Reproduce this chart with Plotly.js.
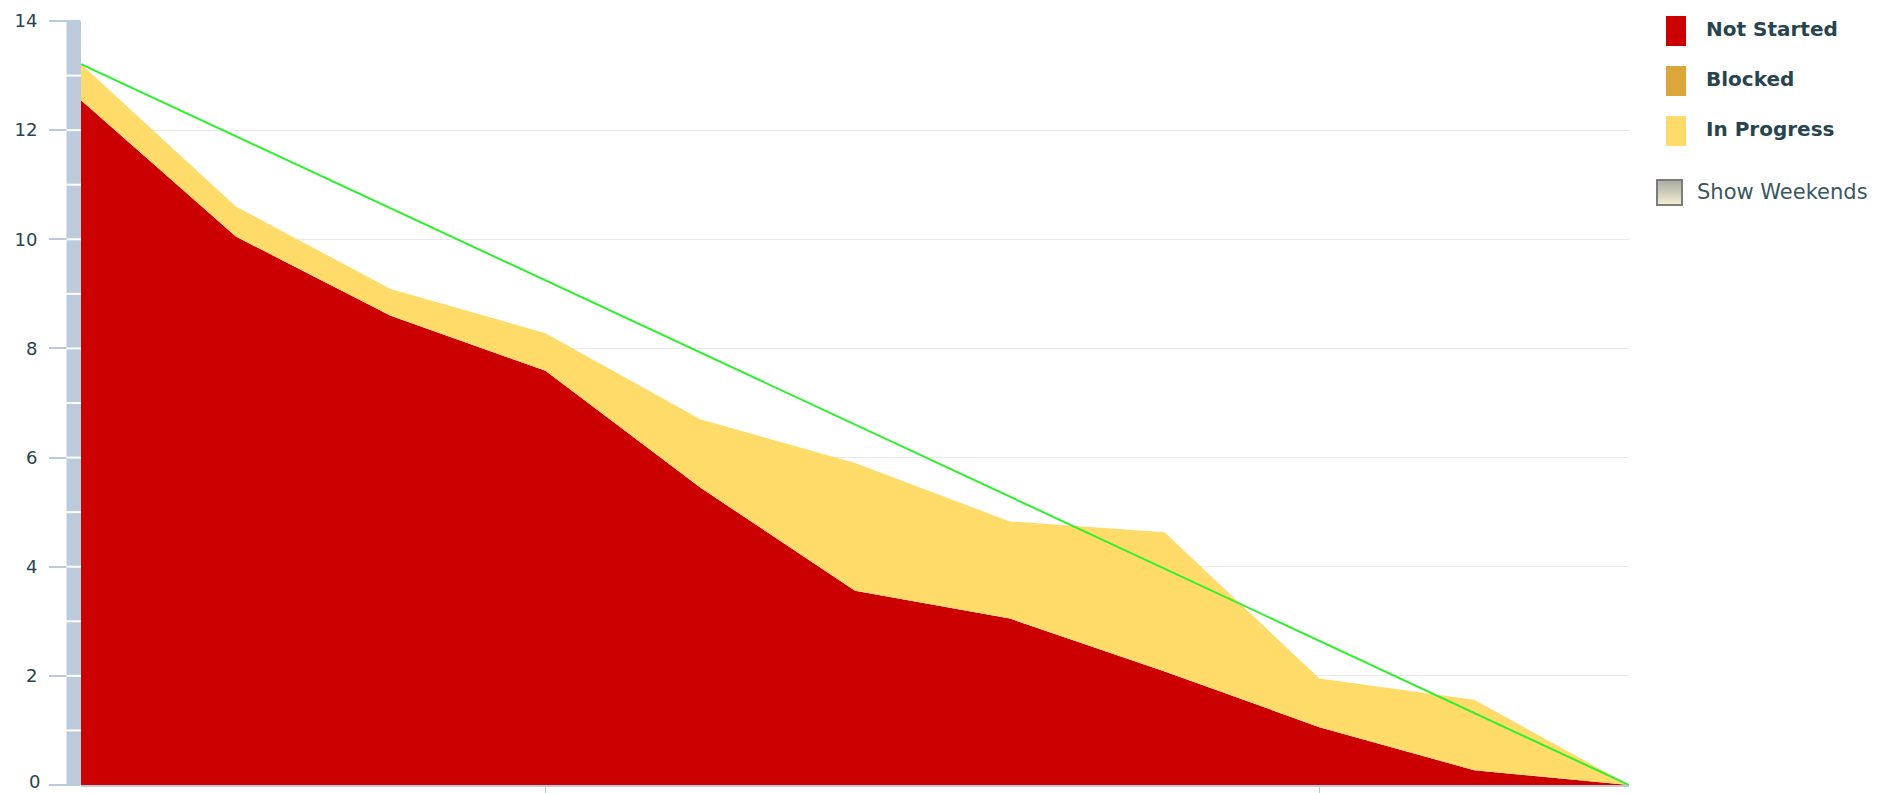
<!DOCTYPE html>
<html>
<head>
<meta charset="utf-8">
<script src="https://cdn.plot.ly/plotly-3.0.1.min.js"></script>
<style>
  html, body { margin: 0; padding: 0; background: #ffffff; }
  #chart { width: 1885px; height: 793px; }
</style>
</head>
<body>
<div id="chart"></div>
<script>
// ---- data ----
const days = [0, 1, 2, 3, 4, 5, 6, 7, 8, 9, 10];
const notStarted = [12.55, 10.05, 8.60, 7.59, 5.45, 3.56, 3.05, 2.08, 1.06, 0.27, 0];
const blocked = [0, 0, 0, 0, 0, 0, 0, 0, 0, 0, 0];
const inProgress = [0.66, 0.55, 0.49, 0.69, 1.25, 2.34, 1.78, 2.55, 0.89, 1.29, 0];
const idealDays = [0, 10];
const idealValues = [13.21, 0];
const weekTicks = [3, 8];
const yTickVals = [0, 2, 4, 6, 8, 10, 12, 14];
const yTickText = ['0', '2', '4', '6', '8', '10', '12', '14'];
const legendLabels = ['Not Started', 'Blocked', 'In Progress'];
const legendColors = ['#cc0000', '#dca73a', '#ffdb69'];
const weekendLabel = 'Show Weekends';

// ---- geometry helpers (page pixels -> paper coords) ----
const W = 1885, H = 793;
const M = { l: 81, r: 256, t: 21, b: 8 };
const PW = W - M.l - M.r, PH = H - M.t - M.b;
const px = x => (x - M.l) / PW;
const py = y => (H - M.b - y) / PH;

const textColor = '#28444e';
const bandColor = '#bccbdb';
const font = 'DejaVu Sans, Verdana, sans-serif';

const traces = [
  { x: days, y: notStarted, name: legendLabels[0], type: 'scatter', mode: 'lines',
    stackgroup: 'one', line: { width: 0 }, fillcolor: legendColors[0], hoverinfo: 'x+y+name' },
  { x: days, y: blocked, name: legendLabels[1], type: 'scatter', mode: 'lines',
    stackgroup: 'one', line: { width: 0 }, fillcolor: legendColors[1], hoverinfo: 'x+y+name' },
  { x: days, y: inProgress, name: legendLabels[2], type: 'scatter', mode: 'lines',
    stackgroup: 'one', line: { width: 0 }, fillcolor: legendColors[2], hoverinfo: 'x+y+name' },
  { x: idealDays, y: idealValues, name: 'Ideal', type: 'scatter', mode: 'lines',
    line: { color: '#2ef02e', width: 2 } }
];

const shapes = [];
// vertical band left of the plot
shapes.push({ type: 'rect', xref: 'paper', yref: 'y', x0: px(66.5), x1: px(81), y0: 0, y1: 14,
  fillcolor: bandColor, line: { width: 0 }, layer: 'above' });
for (let v = 1; v < 14; v++) {
  shapes.push({ type: 'line', xref: 'paper', yref: 'y', x0: px(66.5), x1: px(81), y0: v, y1: v,
    line: { color: '#ffffff', width: 2 }, layer: 'above' });
}
const annotations = [];
// custom legend
const legendY = [31, 81, 131];
for (let i = 0; i < legendLabels.length; i++) {
  shapes.push({ type: 'rect', xref: 'paper', yref: 'paper',
    x0: px(1666), x1: px(1686), y0: py(legendY[i] + 15), y1: py(legendY[i] - 15),
    fillcolor: legendColors[i], line: { width: 0 } });
  annotations.push({ xref: 'paper', yref: 'paper', x: px(1704), y: py(legendY[i] - 2),
    xanchor: 'left', yanchor: 'middle', showarrow: false, text: '<b>' + legendLabels[i] + '</b>',
    font: { family: font, size: 20, color: textColor } });
}
annotations.push({ xref: 'paper', yref: 'paper', x: px(1695), y: py(192),
  xanchor: 'left', yanchor: 'middle', showarrow: false, text: weekendLabel,
  font: { family: font, size: 21, color: '#3a565f' } });
// bottom "0" tick label drawn as annotation so it stays inside the page
annotations.push({ xref: 'paper', yref: 'paper', x: px(41), y: py(793),
  xanchor: 'right', yanchor: 'bottom', showarrow: false, text: yTickText[0], borderpad: 0,
  font: { family: font, size: 18, color: textColor } });
const axisTickText = yTickText.map((t, i) => (i === 0 ? '' : t));

const svg = "<svg xmlns='http://www.w3.org/2000/svg' width='27' height='27'>" +
  "<defs><linearGradient id='g' x1='0' y1='0' x2='0' y2='1'>" +
  "<stop offset='0' stop-color='#a9a9a1'/><stop offset='1' stop-color='#f3f1d2'/></linearGradient></defs>" +
  "<rect x='1' y='1' width='25' height='25' fill='url(#g)' stroke='#7c7c7c' stroke-width='2'/></svg>";
const images = [{
  source: 'data:image/svg+xml;charset=utf-8,' + encodeURIComponent(svg),
  xref: 'paper', yref: 'paper', x: px(1656), y: py(179), sizex: 27 / PW, sizey: 27 / PH,
  xanchor: 'left', yanchor: 'top', sizing: 'stretch', layer: 'above'
}];

const layout = {
  width: W, height: H,
  margin: M,
  paper_bgcolor: '#ffffff', plot_bgcolor: '#ffffff',
  showlegend: false,
  font: { family: font, color: textColor },
  xaxis: {
    range: [0, 10], showgrid: false, zeroline: false,
    showline: true, linecolor: bandColor, linewidth: 2,
    ticks: 'outside', ticklen: 6, tickwidth: 1, tickcolor: bandColor,
    tickmode: 'array', tickvals: weekTicks, showticklabels: false, fixedrange: true
  },
  yaxis: {
    range: [0, 14], showgrid: true, gridcolor: '#e9e9ec', gridwidth: 1,
    zeroline: false, showline: false,
    tickmode: 'array', tickvals: yTickVals, ticktext: axisTickText,
    ticks: 'outside', ticklen: 31, tickwidth: 2, tickcolor: bandColor,
    ticklabelstandoff: 8,
    tickfont: { family: font, size: 18, color: textColor }, fixedrange: true
  },
  shapes: shapes,
  annotations: annotations,
  images: images
};

Plotly.newPlot('chart', traces, layout, { displayModeBar: false, responsive: false });
</script>
</body>
</html>
